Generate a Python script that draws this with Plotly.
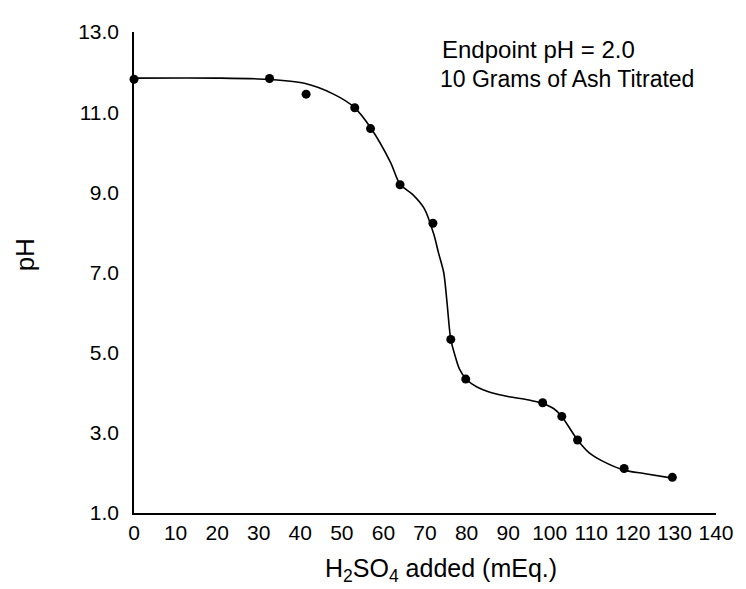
import plotly.graph_objects as go

# Measured data points (H2SO4 added in mEq., pH)
acid_meq = [0, 32.6, 41.4, 53.1, 56.9, 64.0, 71.9, 76.2, 79.8, 98.3, 102.9, 106.7, 117.9, 129.5]
ph_values = [11.82, 11.84, 11.45, 11.11, 10.59, 9.19, 8.23, 5.33, 4.34, 3.75, 3.41, 2.82, 2.11, 1.89]

# Hand-drawn fitted titration curve
curve_x = [0, 20, 32, 41, 48, 53, 57, 61.7, 64, 67, 69.8, 72.1, 73.3, 74.5, 75.3, 76.2, 77.3, 78.3, 80, 82.4, 86, 90.2, 95, 98.3, 101, 102.9, 106.7, 109.5, 112.6, 117.9, 123, 129.5]
curve_y = [11.85, 11.85, 11.82, 11.72, 11.45, 11.12, 10.6, 9.75, 9.2, 8.95, 8.6, 7.96, 7.47, 7.0, 6.25, 5.33, 4.9, 4.59, 4.33, 4.15, 4.0, 3.9, 3.82, 3.73, 3.6, 3.41, 2.82, 2.5, 2.3, 2.07, 1.98, 1.87]

x_ticks = list(range(0, 141, 10))
y_ticks = [1.0, 3.0, 5.0, 7.0, 9.0, 11.0, 13.0]
y_tick_text = ["1.0", "3.0", "5.0", "7.0", "9.0", "11.0", "13.0"]

FONT = "Liberation Sans, Arial, Helvetica, sans-serif"

fig = go.Figure()
fig.add_trace(go.Scatter(
    x=curve_x, y=curve_y, mode="lines",
    line=dict(color="black", width=1.6, shape="spline", smoothing=0.8),
    hoverinfo="skip", showlegend=False,
))
fig.add_trace(go.Scatter(
    x=acid_meq, y=ph_values, mode="markers",
    marker=dict(color="black", size=9),
    cliponaxis=False, showlegend=False,
))

fig.add_annotation(
    xref="paper", yref="paper", x=0.526, y=0.9635, xanchor="left", yanchor="middle",
    text="Endpoint pH = 2.0", showarrow=False,
    font=dict(family=FONT, size=24, color="black"),
)
fig.add_annotation(
    xref="paper", yref="paper", x=0.522, y=0.9025, xanchor="left", yanchor="middle",
    text="10 Grams of Ash Titrated", showarrow=False,
    font=dict(family=FONT, size=23, color="black"),
)
# axis titles placed where the reference has them
fig.add_annotation(
    xref="paper", yref="paper", x=-0.187, y=0.536, xanchor="center", yanchor="middle",
    text="pH", textangle=-90, showarrow=False,
    font=dict(family=FONT, size=26, color="black"),
)
fig.add_annotation(
    xref="paper", yref="paper", x=0.527, y=-0.1186, xanchor="center", yanchor="middle",
    text="H<sub>2</sub>SO<sub>4</sub> added (mEq.)", showarrow=False,
    font=dict(family=FONT, size=25, color="black"),
)

fig.update_layout(
    width=738, height=581,
    margin=dict(l=126, r=24, t=16, b=76),
    paper_bgcolor="white", plot_bgcolor="white",
    font=dict(family=FONT, size=21, color="black"),
    xaxis=dict(
        range=[0, 140], tickvals=x_ticks, showgrid=False, zeroline=False,
        showline=True, linecolor="black", linewidth=1.5, ticks="",
        ticklabelstandoff=0,
        tickfont=dict(family=FONT, size=21, color="black"),
    ),
    yaxis=dict(
        range=[1, 13], tickvals=y_ticks, ticktext=y_tick_text, showgrid=False, zeroline=False,
        showline=True, linecolor="black", linewidth=1.5, ticks="",
        ticklabelstandoff=9,
        tickfont=dict(family=FONT, size=21, color="black"),
    ),
)

fig.write_html("out.html")
